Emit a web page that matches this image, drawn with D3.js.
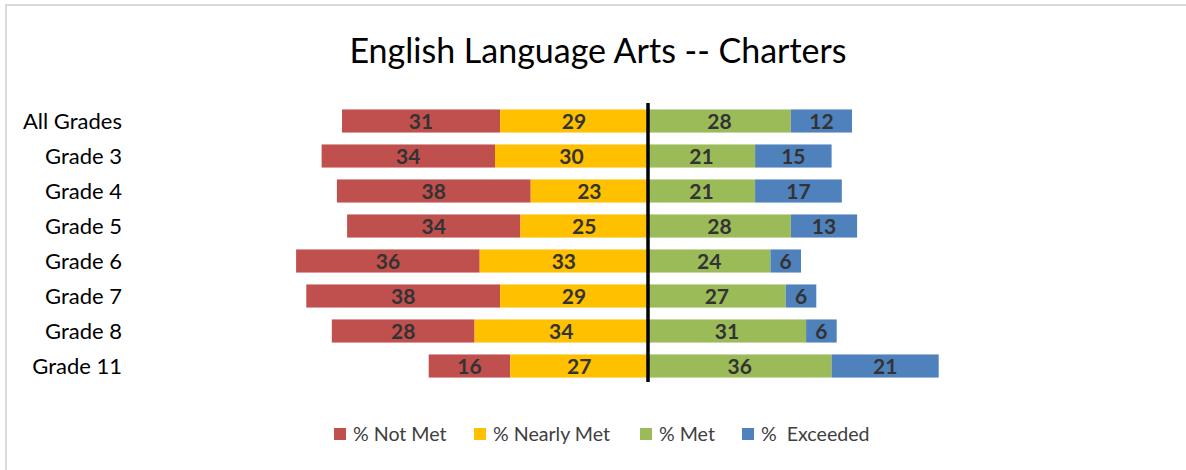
<!DOCTYPE html>
<html>
<head>
<meta charset="utf-8">
<script src="https://cdn.jsdelivr.net/npm/d3@7"></script>
<style>
  body { margin: 0; background: #fff; }
  text { font-family: Lato, "Open Sans", sans-serif; }
</style>
</head>
<body>
<div id="container"></div>
<script>
// data
var grades = ["All Grades", "Grade 3", "Grade 4", "Grade 5", "Grade 6", "Grade 7", "Grade 8", "Grade 11"]
var notMet = [31, 34, 38, 34, 36, 38, 28, 16]
var nearlyMet = [29, 30, 23, 25, 33, 29, 34, 27]
var met = [28, 21, 21, 28, 24, 27, 31, 36]
var exceeded = [12, 15, 17, 13, 6, 6, 6, 21]
var seriesNames = ["% Not Met", "% Nearly Met", "% Met", "%  Exceeded"]
var seriesColors = ["#C0504D", "#FFC000", "#9BBB59", "#4F81BD"]

var width = 1186
var height = 470

var svg = d3.select("#container")
  .append("svg")
  .attr("width", width)
  .attr("height", height)

// chart frame
svg.append("rect")
  .attr("x", 6)
  .attr("y", 5)
  .attr("width", width + 10)
  .attr("height", height + 10)
  .attr("fill", "white")
  .attr("stroke", "#d9d9d9")
  .attr("stroke-width", 2)

svg.append("text")
  .attr("x", 598)
  .attr("y", 63)
  .attr("text-anchor", "middle")
  .attr("font-size", 34)
  .attr("fill", "#000")
  .text("English Language Arts -- Charters")

var x = d3.scaleLinear()
  .domain([-70, 60])
  .range([291, 954])

var y = d3.scaleBand()
  .domain(grades)
  .range([103.5, 383.5])
  .paddingInner(0.34)
  .paddingOuter(0.17)

// build segments: left side goes negative from zero
var segments = []
grades.forEach(function(g, i) {
  segments.push({ grade: g, s: 0, x0: -(notMet[i] + nearlyMet[i]), x1: -nearlyMet[i], v: notMet[i] })
  segments.push({ grade: g, s: 1, x0: -nearlyMet[i], x1: 0, v: nearlyMet[i] })
  segments.push({ grade: g, s: 2, x0: 0, x1: met[i], v: met[i] })
  segments.push({ grade: g, s: 3, x0: met[i], x1: met[i] + exceeded[i], v: exceeded[i] })
})

svg.selectAll("rect.bar")
  .data(segments)
  .enter()
  .append("rect")
  .attr("class", "bar")
  .attr("x", function(d) { return x(d.x0) })
  .attr("y", function(d) { return y(d.grade) })
  .attr("width", function(d) { return x(d.x1) - x(d.x0) })
  .attr("height", y.bandwidth())
  .attr("fill", function(d) { return seriesColors[d.s] })

svg.selectAll("text.val")
  .data(segments)
  .enter()
  .append("text")
  .attr("class", "val")
  .attr("x", function(d) { return (x(d.x0) + x(d.x1)) / 2 })
  .attr("y", function(d) { return y(d.grade) + y.bandwidth() / 2 })
  .attr("dy", "0.37em")
  .attr("text-anchor", "middle")
  .attr("font-size", 21)
  .attr("font-weight", "bold")
  .attr("fill", "#333")
  .text(function(d) { return d.v })

// category labels
svg.selectAll("text.cat")
  .data(grades)
  .enter()
  .append("text")
  .attr("class", "cat")
  .attr("x", 122)
  .attr("y", function(d) { return y(d) + y.bandwidth() / 2 })
  .attr("dy", "0.36em")
  .attr("text-anchor", "end")
  .attr("font-size", 22)
  .attr("fill", "#000")
  .text(function(d) { return d })

// zero line
svg.append("line")
  .attr("x1", x(0))
  .attr("x2", x(0))
  .attr("y1", 103)
  .attr("y2", 382)
  .attr("stroke", "#000")
  .attr("stroke-width", 3.5)

// legend
var legendX = [334, 474, 640, 742]
var legend = svg.selectAll("g.legend")
  .data(seriesNames)
  .enter()
  .append("g")
  .attr("class", "legend")
  .attr("transform", function(d, i) { return "translate(" + legendX[i] + ",434)" })

legend.append("rect")
  .attr("x", 0)
  .attr("y", -6)
  .attr("width", 12)
  .attr("height", 12)
  .attr("fill", function(d, i) { return seriesColors[i] })

legend.append("text")
  .attr("x", 19)
  .attr("y", 0)
  .attr("dy", "0.36em")
  .attr("font-size", 19.6)
  .attr("fill", "#404040")
  .style("white-space", "pre")
  .text(function(d) { return d })
</script>
</body>
</html>
